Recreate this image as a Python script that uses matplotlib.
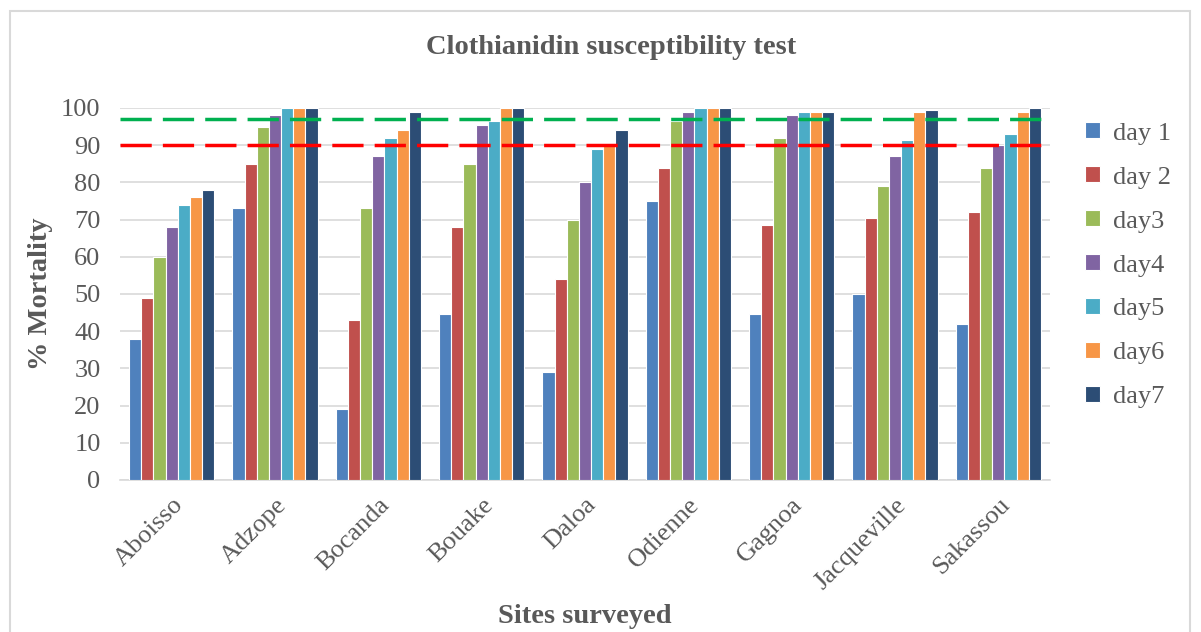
import numpy as np
import matplotlib
matplotlib.use("Agg")
import matplotlib.pyplot as plt
from matplotlib.patches import Rectangle

sites = ["Aboisso", "Adzope", "Bocanda", "Bouake", "Daloa",
         "Odienne", "Gagnoa", "Jacqueville", "Sakassou"]
days = ["day 1", "day 2", "day3", "day4", "day5", "day6", "day7"]

day1 = [38, 73, 19, 44.5, 29, 75, 44.5, 50, 42]
day2 = [49, 85, 43, 68, 54, 84, 68.5, 70.5, 72]
day3 = [60, 95, 73, 85, 70, 96.5, 92, 79, 84]
day4 = [68, 98, 87, 95.5, 80, 99, 98, 87, 90]
day5 = [74, 100, 92, 96.5, 89, 100, 99, 91.5, 93]
day6 = [76, 100, 94, 100, 90, 100, 99, 99, 99]
day7 = [78, 100, 99, 100, 94, 100, 99, 99.5, 100]
series = [day1, day2, day3, day4, day5, day6, day7]

colors = ["#4F81BD", "#C0504D", "#9BBB59", "#8064A2",
          "#4BACC6", "#F79646", "#2C4D75"]

threshold_green = 97
threshold_red = 90

TXT = "#595959"
plt.rcParams["font.family"] = ["Liberation Serif", "DejaVu Serif"]

fig = plt.figure(figsize=(12.01, 6.32), dpi=100)
ax = fig.add_axes([120 / 1201, 1 - 480 / 632, 930 / 1201, 372 / 632])

x = np.arange(len(sites))
w = 0.118
for i, (vals, c, lab) in enumerate(zip(series, colors, days)):
    ax.bar(x + (i - 3) * w, vals, width=w, color=c, edgecolor="white",
           linewidth=0.8, label=lab, zorder=3)

ax.axhline(threshold_green, color="#00B050", lw=2.5, dashes=(9, 3.2), zorder=4)
ax.axhline(threshold_red, color="#FF0000", lw=2.5, dashes=(9, 3.2), zorder=4)

ax.set_xlim(-0.5, len(sites) - 0.5)
ax.set_ylim(0, 100)
ax.set_yticks(np.arange(0, 101, 10))
ax.yaxis.grid(True, color="#D9D9D9", lw=1.2, zorder=0)
ax.set_axisbelow(True)
for s in ["top", "right", "left"]:
    ax.spines[s].set_visible(False)
ax.spines["bottom"].set_color("#D9D9D9")
ax.spines["bottom"].set_linewidth(1.2)
ax.tick_params(axis="both", length=0, labelsize=19, labelcolor=TXT)
ax.tick_params(axis="y", pad=14)
ax.set_xticks(x)
ax.set_xticklabels(sites, rotation=45, ha="right", rotation_mode="anchor")
ax.tick_params(axis="x", pad=10)

ax.set_xlabel("Sites surveyed", fontsize=20.5, fontweight="bold", color=TXT,
              va="center")
ax.xaxis.set_label_coords(0.5, -0.366)
ax.set_ylabel("% Mortality", fontsize=20.5, fontweight="bold", color=TXT,
              va="center")
ax.yaxis.set_label_coords(-0.086, 0.5)

fig.text(611 / 1201, 1 - 48 / 632, "Clothianidin susceptibility test",
         ha="center", va="center", fontsize=20.5, fontweight="bold", color=TXT)

handles, labels = ax.get_legend_handles_labels()
leg = fig.legend(handles, labels, loc="upper left",
                 bbox_to_anchor=(1067 / 1201, 1 - 104 / 632),
                 frameon=False, fontsize=19, labelcolor=TXT,
                 handlelength=0.55, handleheight=0.55, handletextpad=0.5,
                 labelspacing=0.82, borderpad=0.2)

fig.patches.append(Rectangle((10 / 1201, -0.05), 1180 / 1201, 1.05 - 11 / 632,
                             transform=fig.transFigure, fill=False,
                             edgecolor="#D9D9D9", lw=1.5))

fig.savefig("out.png", dpi=100)
